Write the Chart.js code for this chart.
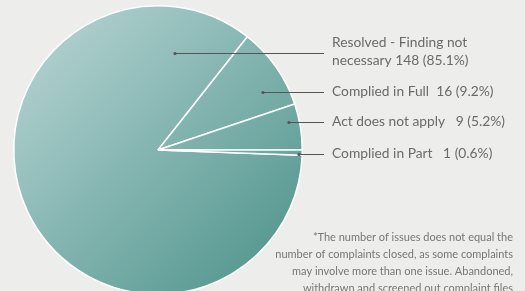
<!DOCTYPE html>
<html>
<head>
<meta charset="utf-8">
<script src="https://cdn.jsdelivr.net/npm/chart.js@4/dist/chart.umd.min.js"></script>
<style>
  html, body { margin: 0; padding: 0; background: #ededeb; overflow: hidden; }
  #wrap { position: relative; width: 525px; height: 300px; }
</style>
</head>
<body>
<div id="wrap"><canvas id="pieChart" width="525" height="300"></canvas></div>
<script>
// data
const categories = ["Resolved - Finding not necessary", "Complied in Full", "Act does not apply", "Complied in Part"];
const issueCounts = [148, 16, 9, 1];
const percentLabels = ["85.1%", "9.2%", "5.2%", "0.6%"];
const footnote = [
  "*The number of issues does not equal the",
  "number of complaints closed, as some complaints",
  "may involve more than one issue. Abandoned,",
  "withdrawn and screened out complaint files"
];

const total = issueCounts.reduce((a, b) => a + b, 0);
const fontFam = "Lato, 'Open Sans', sans-serif";

// label rows: text lines, y of leader line, dot x
const rows = [
  { lines: ["Resolved - Finding not", "necessary 148 (85.1%)"], y: 53, dotX: 175 },
  { lines: [categories[1] + "  " + issueCounts[1] + " (" + percentLabels[1] + ")"], y: 92, dotX: 263 },
  { lines: [categories[2] + "   " + issueCounts[2] + " (" + percentLabels[2] + ")"], y: 122, dotX: 289 },
  { lines: [categories[3] + "   " + issueCounts[3] + " (" + percentLabels[3] + ")"], y: 154, dotX: 299 }
];

function pieGradient(context) {
  const area = context.chart.chartArea;
  if (!area) return "#86b5b1";
  const cx = (area.left + area.right) / 2;
  const cy = (area.top + area.bottom) / 2;
  const r = Math.min(area.right - area.left, area.bottom - area.top) / 2;
  const g = context.chart.ctx.createLinearGradient(cx - r * 0.7, cy - r * 0.7, cx + r * 0.7, cy + r * 0.7);
  g.addColorStop(0, "#abcdcb");
  g.addColorStop(1, "#5b9b94");
  return g;
}

const calloutPlugin = {
  id: "callouts",
  afterDraw(chart) {
    const ctx = chart.ctx;
    ctx.save();
    rows.forEach((row) => {
      ctx.strokeStyle = "#555";
      ctx.lineWidth = 1;
      ctx.beginPath();
      ctx.moveTo(row.dotX, row.y + 0.5);
      ctx.lineTo(324, row.y + 0.5);
      ctx.stroke();
      ctx.fillStyle = "#555";
      ctx.beginPath();
      ctx.arc(row.dotX, row.y + 0.5, 1.6, 0, Math.PI * 2);
      ctx.fill();

      ctx.fillStyle = "#6a6a6a";
      ctx.font = "13.8px " + fontFam;
      ctx.textBaseline = "middle";
      ctx.textAlign = "left";
      const lh = 18;
      const startY = row.lines.length > 1 ? row.y - lh / 2 - 1 : row.y;
      row.lines.forEach((t, i) => ctx.fillText(t, 332, startY + i * lh));
    });

    ctx.fillStyle = "#777";
    ctx.font = "11px " + fontFam;
    ctx.textAlign = "right";
    ctx.textBaseline = "middle";
    footnote.forEach((t, i) => ctx.fillText(t, 513, 237 + i * 17.3));
    ctx.restore();
  }
};

new Chart(document.getElementById("pieChart"), {
  type: "pie",
  data: {
    labels: categories,
    datasets: [{
      data: issueCounts,
      backgroundColor: pieGradient,
      borderColor: "#ffffff",
      borderWidth: 1.5
    }]
  },
  options: {
    responsive: false,
    animation: false,
    rotation: 90 + (issueCounts[3] / total) * 360,
    layout: { padding: { left: 13, top: 5, right: 222, bottom: 5 } },
    plugins: {
      legend: { display: false },
      tooltip: { enabled: false }
    }
  },
  plugins: [calloutPlugin]
});
</script>
</body>
</html>
